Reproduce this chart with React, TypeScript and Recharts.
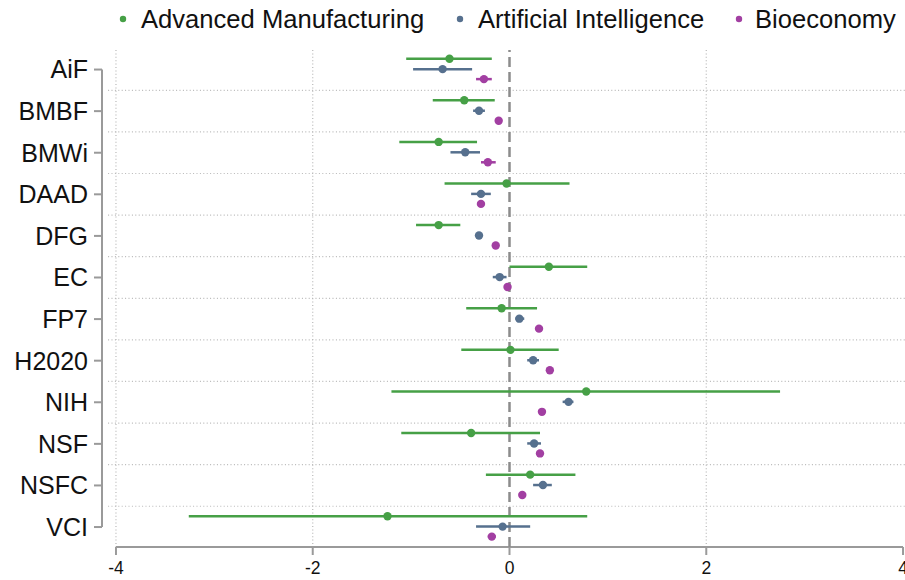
import React from 'react';
import { ScatterChart, Scatter, XAxis, YAxis, ErrorBar, ReferenceLine } from 'recharts';

const categories = ['AiF', 'BMBF', 'BMWi', 'DAAD', 'DFG', 'EC', 'FP7', 'H2020', 'NIH', 'NSF', 'NSFC', 'VCI'];

const amEst = [-0.61, -0.46, -0.72, -0.03, -0.72, 0.40, -0.08, 0.01, 0.78, -0.39, 0.21, -1.24];
const amLo = [-1.05, -0.78, -1.12, -0.66, -0.95, 0.0, -0.44, -0.49, -1.2, -1.1, -0.24, -3.26];
const amHi = [-0.18, -0.15, -0.33, 0.61, -0.5, 0.79, 0.28, 0.5, 2.75, 0.31, 0.67, 0.79];

const aiEst = [-0.68, -0.31, -0.45, -0.29, -0.31, -0.1, 0.1, 0.24, 0.6, 0.25, 0.34, -0.07];
const aiLo = [-0.98, -0.37, -0.6, -0.39, -0.34, -0.17, 0.06, 0.18, 0.54, 0.18, 0.24, -0.34];
const aiHi = [-0.38, -0.25, -0.3, -0.19, -0.28, -0.03, 0.15, 0.3, 0.65, 0.32, 0.43, 0.21];

const bioEst = [-0.26, -0.11, -0.22, -0.29, -0.14, -0.02, 0.3, 0.41, 0.33, 0.31, 0.13, -0.18];
const bioLo = [-0.34, -0.13, -0.29, -0.31, -0.16, -0.04, 0.28, 0.39, 0.31, 0.29, 0.11, -0.22];
const bioHi = [-0.18, -0.09, -0.14, -0.27, -0.12, 0.0, 0.32, 0.43, 0.35, 0.33, 0.15, -0.14];

const xTicks = [-4, -2, 0, 2, 4];
const xGrid = [-4, -2, 2];

const seriesDefs = [
  { name: 'Advanced Manufacturing', color: '#46a046', est: amEst, lo: amLo, hi: amHi, offset: -0.26 },
  { name: 'Artificial Intelligence', color: '#56708e', est: aiEst, lo: aiLo, hi: aiHi, offset: -0.01 },
  { name: 'Bioeconomy', color: '#a23fa2', est: bioEst, lo: bioLo, hi: bioHi, offset: 0.23 },
];

const legendPos = [
  { dot: 123, text: 141 },
  { dot: 460, text: 478 },
  { dot: 739, text: 755 },
];

const X_MIN = -4.142;
const X_MAX = 4.02;
const Y_MIN = -0.47;
const Y_MAX = 11.48;
const FONT = '"Liberation Sans", Arial, sans-serif';
const AXIS = '#9a9a9a';
const GRID = '#b8b8b8';

export default function App() {
  const series = seriesDefs.map((s) => ({
    ...s,
    data: categories.map((c, i) => ({
      cat: c,
      x: s.est[i],
      y: i + s.offset,
      err: [s.est[i] - s.lo[i], s.hi[i] - s.est[i]],
    })),
  }));
  const yTicks = categories.map((_, i) => i);
  const between = categories.slice(1).map((_, i) => i + 0.5);

  return (
    <div style={{ position: 'absolute', left: 0, top: 0, width: 905, height: 580, background: '#fff', fontFamily: FONT }}>
      <ScatterChart width={905} height={580} margin={{ top: 50, right: 0, bottom: 0, left: 0 }}>
        <XAxis
          type="number"
          dataKey="x"
          domain={[X_MIN, X_MAX]}
          ticks={xTicks}
          allowDataOverflow
          height={33}
          axisLine={false}
          tickLine={{ stroke: AXIS, strokeWidth: 2 }}
          tickSize={8}
          tickMargin={7}
          tick={{ fill: '#111', fontSize: 17.5, fontFamily: FONT }}
          interval={0}
        />
        <YAxis
          type="number"
          dataKey="y"
          domain={[Y_MIN, Y_MAX]}
          reversed
          ticks={yTicks}
          allowDataOverflow
          width={102}
          axisLine={false}
          tickLine={{ stroke: AXIS, strokeWidth: 2 }}
          tickSize={8}
          tickMargin={6}
          interval={0}
          tickFormatter={(v: number) => categories[v] ?? ''}
          tick={{ fill: '#111', fontSize: 25, fontFamily: FONT }}
        />
        {between.map((y) => (
          <ReferenceLine
            key={'h' + y}
            segment={[{ x: -4.08, y }, { x: X_MAX, y }]}
            stroke={GRID}
            strokeWidth={1.2}
            strokeDasharray="1 2.4"
          />
        ))}
        {xGrid.map((x) => (
          <ReferenceLine
            key={'v' + x}
            segment={[{ x, y: Y_MIN }, { x, y: Y_MAX }]}
            stroke={GRID}
            strokeWidth={1.2}
            strokeDasharray="1 2.4"
          />
        ))}
        <ReferenceLine
          segment={[{ x: X_MIN, y: 0 }, { x: X_MIN, y: categories.length - 1 }]}
          stroke={AXIS}
          strokeWidth={2}
          ifOverflow="visible"
        />
        <ReferenceLine
          segment={[{ x: -4, y: Y_MAX }, { x: 4, y: Y_MAX }]}
          stroke={AXIS}
          strokeWidth={2}
          ifOverflow="visible"
        />
        <ReferenceLine x={0} stroke="#8c8c8c" strokeWidth={2.5} strokeDasharray="10 5" />
        {series.map((s) => (
          <Scatter
            key={s.name}
            name={s.name}
            data={s.data}
            fill={s.color}
            isAnimationActive={false}
            shape={(p: any) => <circle cx={p.cx} cy={p.cy} r={4.2} fill={s.color} />}
          >
            <ErrorBar dataKey="err" direction="x" width={0} stroke={s.color} strokeWidth={2.5} />
          </Scatter>
        ))}
      </ScatterChart>
      <svg width={905} height={40} style={{ position: 'absolute', left: 0, top: 0 }}>
        {seriesDefs.map((s, i) => (
          <g key={s.name}>
            <circle cx={legendPos[i].dot} cy={19} r={3.2} fill={s.color} />
            <text x={legendPos[i].text} y={28} fontSize={25.6} fontFamily={FONT} fill="#111">
              {s.name}
            </text>
          </g>
        ))}
      </svg>
    </div>
  );
}
